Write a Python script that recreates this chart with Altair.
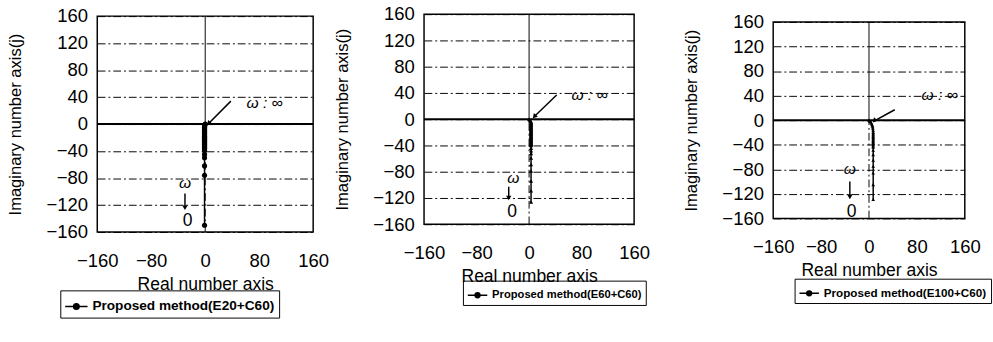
import altair as alt
import pandas as pd

FONT = "Liberation Sans"

x_ticks = [-160, -80, 0, 80, 160]
y_ticks = [-160, -120, -80, -40, 0, 40, 80, 120, 160]

names = ["Proposed method(E20+C60)", "Proposed method(E60+C60)", "Proposed method(E100+C60)"]

# Panel 1 (E20+C60)
p1_re = [0, -0.5, -1, -1, -1, -1, -1, -1, -1, -1, -1, -1, -1, -1, -1, -1, -1, -1, -1, -1,
         -1, -1, -1, -1, -1, -1, -1, -1, -1, -1, -1, -1, -1, -1, -1, -1, -1, -1, -1,
         -1, -1, -1, -1, -1]
p1_im = [0, -1, -2, -3, -4, -5, -6, -7, -8, -9, -10, -11, -12, -13, -14, -15, -16, -17, -18, -19,
         -20, -21, -22, -23, -24, -25, -26, -27, -28, -29, -30, -31, -32, -33, -34, -35, -36, -37, -39,
         -45, -50, -62, -76, -150]

# Panel 2 (E60+C60)
p2_re = [0, 1, 2, 2, 3, 3, 3, 3, 3, 3, 3, 3, 3, 3, 3, 3, 3, 3, 3, 3, 3,
         3, 3, 3, 3, 3, 3, 3, 3, 3, 3, 3, 3, 3, 3, 3, 3, 3, 3, 3, 3,
         3, 3, 3, 3, 3, 3, 3, 3, 3]
p2_im = [0, -1, -2, -3, -4, -5, -6, -7, -8, -9, -10, -11, -12, -13, -14, -15, -16, -17, -18, -19, -20,
         -21, -22, -23, -24, -25, -26, -27, -28, -29, -30, -31, -32, -33, -34, -35, -36, -37, -38, -39, -40,
         -44, -48, -52, -59, -69, -79, -94, -109, -126]

# Panel 3 (E100+C60)
p3_re = [0, 1, 2, 3, 4, 5, 5.5, 6, 6.5, 7, 7, 7, 7, 7, 7, 7, 7, 7, 7, 7, 7, 7,
         7, 7, 7, 7, 7, 7, 7, 7]
p3_im = [0, -1, -2, -3, -5, -7, -9, -11, -14, -17, -20, -22, -24, -26, -28, -30, -32, -34, -36, -38, -40, -42,
         -44, -49, -56, -65, -75, -86, -105, -129]

# Annotation anchors (data coordinates) per panel
inf_text_xy = [(88, 31), (92, 36), (118, 40)]
inf_arrow = [((38, 34), (5, 1)), ((42, 37), (8, 4)), ((43, 17), (9, -1))]
omega_xy = [(-30, -88), (-24, -90), (-32, -80)]
down_arrow = [((-30, -103), (-30, -124)), ((-31, -103), (-31, -120)), ((-32, -100), (-32, -125))]
zero_xy = [(-26, -144), (-26, -141), (-29, -149)]

sizes = [(222, 222), (216, 216), (197, 202)]
legend_pos = [(-38, 282), (40, 274), (22, 264)]
legend_font = [14, 11.5, 12]
legend_sym = [23, 20, 20]
shapes = ["circle", "triangle-up", "triangle-up"]
msizes = [28, 18, 14]
spacer_left = [0, 0, 122]
top_space = [5, 1, 11]

SYM = "M-1,0L1,0M-0.25,0A0.25,0.25,0,1,1,0.25,0A0.25,0.25,0,1,1,-0.25,0Z"


def panel(i, re, im):
    w, h = sizes[i]
    xs = alt.Scale(domain=[-160, 160], nice=False, zero=False)
    ys = alt.Scale(domain=[-160, 160], nice=False, zero=False)
    df = pd.DataFrame({"re": re, "im": im, "series": names[i]})

    xax = alt.Axis(values=x_ticks, grid=False, ticks=False, domain=False, labelFontSize=19,
                   labelFont=FONT, labelPadding=20, labelColor="black", labelOverlap=False,
                   labelFlush=False, title="Real number axis",
                   titleFont=FONT, titleFontSize=18, titleFontWeight="normal", titlePadding=6,
                   titleColor="black")
    yax = alt.Axis(values=y_ticks, grid=True, gridColor="black", gridDash=[8, 3, 2, 3], gridWidth=1,
                   gridOpacity=1, ticks=False, domain=False, labelFontSize=19, labelFont=FONT,
                   labelPadding=10, labelColor="black", labelOverlap=False, labelFlush=False,
                   title="Imaginary number axis(j)",
                   titleFont=FONT, titleFontSize=17, titleFontWeight="normal", titlePadding=22,
                   titleColor="black")

    def X(f):
        return alt.X(f, scale=xs, axis=xax, title="Real number axis")

    def Y(f):
        return alt.Y(f, scale=ys, axis=yax, title="Imaginary number axis(j)")

    base = alt.Chart(pd.DataFrame({"gx": [0], "gy": [0]}))

    frame = base.mark_point(opacity=0).encode(x=X("gx:Q"), y=Y("gy:Q"))

    layers = [frame]
    if spacer_left[i]:
        layers.append(base.mark_rule(strokeOpacity=0, opacity=0).encode(
            x=alt.value(-spacer_left[i]), x2=alt.value(0),
            y=alt.value(h / 2), y2=alt.value(h / 2)))

    hzero = base.mark_rule(color="black", strokeWidth=2).encode(
        y=Y("gy:Q"), x=alt.value(0), x2=alt.value(w))
    vtop = alt.Chart(pd.DataFrame({"gx": [0], "b": [0], "c": [160]})).mark_rule(
        color="black", strokeWidth=1).encode(x=X("gx:Q"), y=Y("b:Q"), y2="c:Q")
    vbot = alt.Chart(pd.DataFrame({"gx": [0], "b": [-160], "c": [0]})).mark_rule(
        color="black", strokeWidth=1, strokeDash=[8, 3, 2, 3]).encode(
        x=X("gx:Q"), y=Y("b:Q"), y2="c:Q")

    color = alt.Color("series:N", scale=alt.Scale(range=["black"]),
                      legend=alt.Legend(title=None, orient="none", legendX=legend_pos[i][0],
                                        legendY=legend_pos[i][1], labelFont=FONT,
                                        labelFontWeight="bold", labelFontSize=legend_font[i],
                                        labelColor="black", labelLimit=0, symbolType=SYM,
                                        symbolSize=legend_sym[i] ** 2, symbolStrokeWidth=1.5,
                                        symbolFillColor="black", symbolStrokeColor="black",
                                        strokeColor="black", padding=4, cornerRadius=0,
                                        symbolOffset=0))
    line = alt.Chart(df).mark_line(strokeWidth=1.5).encode(
        x=X("re:Q"), y=Y("im:Q"), order=alt.Order("im:Q", sort="descending"), color=color)
    pts = alt.Chart(df).mark_point(shape=shapes[i], filled=True, size=msizes[i], opacity=1).encode(
        x=X("re:Q"), y=Y("im:Q"), color=color)

    ann = pd.DataFrame({
        "t": ["\u03c9 : \u221e", "\u03c9", "0"],
        "x": [inf_text_xy[i][0], omega_xy[i][0], zero_xy[i][0]],
        "y": [inf_text_xy[i][1], omega_xy[i][1], zero_xy[i][1]],
    })
    txt_it = alt.Chart(ann.iloc[:2]).mark_text(font=FONT, fontStyle="italic", color="black",
                                               fontSize=16).encode(x=X("x:Q"), y=Y("y:Q"), text="t:N")
    txt_0 = alt.Chart(ann.iloc[2:]).mark_text(font=FONT, color="black", fontSize=18).encode(
        x=X("x:Q"), y=Y("y:Q"), text="t:N")

    arr = pd.DataFrame({
        "x1": [inf_arrow[i][0][0], down_arrow[i][0][0]],
        "y1": [inf_arrow[i][0][1], down_arrow[i][0][1]],
        "x2": [inf_arrow[i][1][0], down_arrow[i][1][0]],
        "y2": [inf_arrow[i][1][1], down_arrow[i][1][1]],
        "ang": [222, 180],
    })
    arr_line = alt.Chart(arr).mark_rule(color="black", strokeWidth=1.5).encode(
        x=X("x1:Q"), y=Y("y1:Q"), x2="x2:Q", y2="y2:Q")
    arr_head = alt.Chart(arr).mark_point(shape="triangle-up", filled=True, size=30, color="black",
                                         opacity=1).encode(
        x=X("x2:Q"), y=Y("y2:Q"), angle=alt.Angle("ang:Q", scale=None))

    layers += [vbot, vtop, hzero, line, pts, arr_line, arr_head, txt_it, txt_0]
    main = alt.layer(*layers).properties(
        width=w, height=h, view=alt.ViewBackground(stroke="black", strokeWidth=1.5))

    spacer = alt.Chart(pd.DataFrame({"gx": [0]})).mark_point(opacity=0).encode(
        x=alt.value(0), y=alt.value(0)
    ).properties(width=10, height=top_space[i], view=alt.ViewBackground(strokeOpacity=0))
    return alt.vconcat(spacer, main, spacing=-6).resolve_scale(color="independent")


chart = alt.hconcat(
    panel(0, p1_re, p1_im), panel(1, p2_re, p2_im), panel(2, p3_re, p3_im), spacing=3
).resolve_scale(color="independent").properties(
    padding={"left": 6, "top": 0, "right": 0, "bottom": 0}, background="white"
)

chart.save("out.html", embed_options={"renderer": "svg", "actions": False})
